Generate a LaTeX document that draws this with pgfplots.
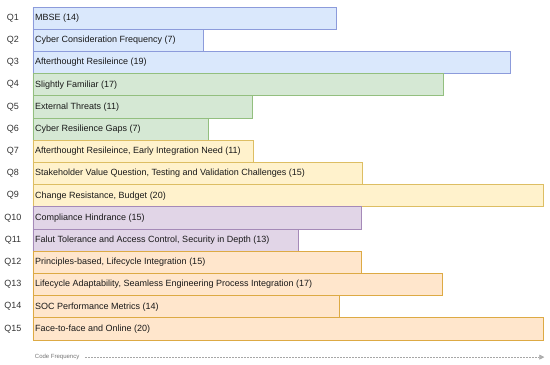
\documentclass[border=0pt]{standalone}
\usepackage{pgfplots}
\pgfplotsset{compat=1.18}
\usepackage{pgfplotstable}
\usepackage{fontspec}
\setmainfont{Liberation Sans}
\usetikzlibrary{arrows.meta}
\definecolor{bfill}{HTML}{DAE8FC}\definecolor{bdraw}{HTML}{8C9BDB}
\definecolor{gfill}{HTML}{D5E8D4}\definecolor{gdraw}{HTML}{93BF7F}
\definecolor{yfill}{HTML}{FFF2CC}\definecolor{ydraw}{HTML}{DDBE63}
\definecolor{pfill}{HTML}{E1D5E7}\definecolor{pdraw}{HTML}{A58AB8}
\definecolor{ofill}{HTML}{FFE6CC}\definecolor{odraw}{HTML}{DDAA44}
\pgfplotstableread[col sep=semicolon]{
x;y;label
0;1;MBSE (14)
0;2;Cyber Consideration Frequency (7)
0;3;Afterthought Resileince (19)
0;4;Slightly Familiar (17)
0;5;External Threats (11)
0;6;Cyber Resilience Gaps (7)
0;7;Afterthought Resileince, Early Integration Need (11)
0;8;Stakeholder Value Question, Testing and Validation Challenges (15)
0;9;Change Resistance, Budget (20)
0;10;Compliance Hindrance (15)
0;11;Falut Tolerance and Access Control, Security in Depth (13)
0;12;Principles-based, Lifecycle Integration (15)
0;13;Lifecycle Adaptability, Seamless Engineering Process Integration (17)
0;14;SOC Performance Metrics (14)
0;15;Face-to-face and Online (20)
}\labeltable
\begin{document}
\begin{tikzpicture}
\useasboundingbox (-33bp,-25bp) rectangle (517bp,340bp);
\begin{axis}[
  at={(0,0)}, anchor=south west,
  scale only axis, width=510bp, height=333bp,
  xmin=0, xmax=20, ymin=0.5, ymax=15.5, y dir=reverse,
  axis line style={draw=none},
  xtick=\empty,
  ytick={1,...,15},
  yticklabels={Q1,Q2,Q3,Q4,Q5,Q6,Q7,Q8,Q9,Q10,Q11,Q12,Q13,Q14,Q15},
  major tick length=0pt,
  yticklabel style={anchor=center, xshift=-20bp, font=\fontsize{9bp}{10bp}\selectfont, text=black!80},
  xbar, bar width=1, clip=false,
]
\addplot[bar shift=0pt, fill=bfill, draw=bdraw, line width=0.8bp] coordinates {(11.91,1) (6.70,2) (18.74,3)};
\addplot[bar shift=0pt, fill=gfill, draw=gdraw, line width=0.8bp] coordinates {(16.11,4) (8.62,5) (6.89,6)};
\addplot[bar shift=0pt, fill=yfill, draw=ydraw, line width=0.8bp] coordinates {(8.66,7) (12.93,8) (20,9)};
\addplot[bar shift=0pt, fill=pfill, draw=pdraw, line width=0.8bp] coordinates {(12.86,10) (10.42,11)};
\addplot[bar shift=0pt, fill=ofill, draw=odraw, line width=0.8bp] coordinates {(12.86,12) (16.07,13) (12.03,14) (20,15)};
\addplot[draw=none, mark=none, xbar=false, nodes near coords, point meta=explicit symbolic,
  every node near coord/.style={anchor=west, inner sep=0pt, xshift=2bp, font=\fontsize{9bp}{10bp}\selectfont, text=black!90}]
  table[x=x, y=y, meta=label] {\labeltable};
\node[anchor=west, inner sep=0pt, font=\fontsize{6bp}{7bp}\selectfont, text=black!55] at (axis cs:0.07,16.27) {Code Frequency};
\draw[black!35, dash pattern=on 1.5bp off 1.5bp, line width=0.6bp, -{Triangle[length=5bp,width=5bp,fill=black!30]}] (axis cs:2.05,16.27) -- (axis cs:20.05,16.27);
\end{axis}
\end{tikzpicture}
\end{document}
